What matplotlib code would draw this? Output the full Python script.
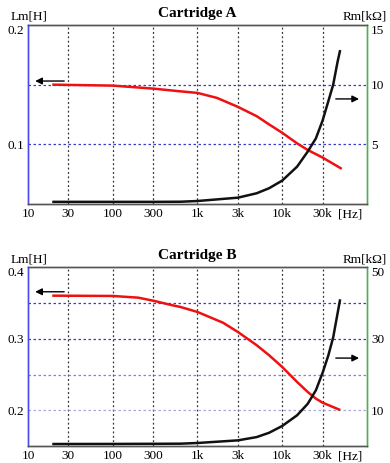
import matplotlib
matplotlib.use("Agg")
import matplotlib.pyplot as plt

# ---- data ----
freq_a = [20, 100, 300, 630, 1000, 1700, 3000, 5000, 7000, 10000, 15000, 20000, 30000, 49000]
lm_a = [0.150, 0.1492, 0.1467, 0.1444, 0.1431, 0.1389, 0.1314, 0.1236, 0.1167, 0.1097,
        0.1008, 0.0953, 0.0889, 0.0800]
freq_rm_a = [20, 100, 300, 630, 1000, 3000, 5000, 7000, 10000, 15000, 20000, 25000,
             30000, 35000, 40000, 45000, 48000]
rm_a = [0.18, 0.18, 0.18, 0.19, 0.25, 0.53, 0.9, 1.32, 1.96, 3.13, 4.39, 5.5, 7.0, 8.6,
        10.0, 11.9, 12.8]

freq_b = [20, 100, 200, 300, 500, 630, 1000, 2000, 3000, 5000, 7000, 10000, 15000, 20000,
          25000, 30000, 47000]
lm_b = [0.3603, 0.3599, 0.3575, 0.3533, 0.347, 0.3445, 0.3375, 0.3225, 0.3095, 0.291,
        0.277, 0.2606, 0.2396, 0.2256, 0.2163, 0.2106, 0.201]
freq_rm_b = [20, 100, 300, 630, 1000, 3000, 5000, 7000, 10000, 15000, 20000, 25000,
             30000, 35000, 40000, 48000]
rm_b = [0.56, 0.58, 0.62, 0.65, 0.84, 1.58, 2.5, 3.7, 5.6, 8.6, 11.8, 15.6, 20.5, 25.3,
        30.4, 40.7]

xticks = [10, 30, 100, 300, 1000, 3000, 10000, 30000]
xticklabels = ["10", "30", "100", "300", "1k", "3k", "10k", "30k"]

titles = ["Cartridge A", "Cartridge B"]
lm_ranges = [(0.05, 0.2), (0.15, 0.4)]
rm_ranges = [(0, 15), (0, 50)]
lm_ticks = [[0.2, 0.1], [0.4, 0.3, 0.2]]
lm_ticklabels = [["0.2", "0.1"], ["0.4", "0.3", "0.2"]]
rm_ticks = [[15, 10, 5], [50, 30, 10]]
rm_ticklabels = [["15", "10", "5"], ["50", "30", "10"]]
hgrid = [[(0.15, '#3a3acc'), (0.1, '#3a3acc')],
         [(0.35, '#3a3acc'), (0.3, '#3a3acc'), (0.25, '#8080dd'), (0.2, '#a8a8d8')]]
arrow_y = [(0.687, 0.587), (0.863, 0.492)]

serif = ['Liberation Serif', 'DejaVu Serif']

fig = plt.figure(figsize=(3.9, 4.63), dpi=100)
rects = [[0.0718, 0.5594, 0.869, 0.3866], [0.0718, 0.0367, 0.869, 0.386]]

lm_data = [(freq_a, lm_a), (freq_b, lm_b)]
rm_data = [(freq_rm_a, rm_a), (freq_rm_b, rm_b)]

for i in range(2):
    ax = fig.add_axes(rects[i])
    ax.set_xscale('log')
    ax.set_xlim(10, 100000)
    ax.set_ylim(*lm_ranges[i])
    for x in xticks[1:]:
        ax.axvline(x, color='#333333', ls=(0, (1.5, 2)), lw=0.9, zorder=1)
    for y, c in hgrid[i]:
        ax.axhline(y, color=c, ls=(0, (2, 2)), lw=0.9, zorder=1)
    ax.set_xticks(xticks)
    ax.set_xticklabels(xticklabels, fontfamily=serif, fontsize=9.5)
    ax.xaxis.set_minor_locator(matplotlib.ticker.NullLocator())
    ax.set_yticks(lm_ticks[i])
    ax.set_yticklabels(lm_ticklabels[i], fontfamily=serif, fontsize=9.5)
    ax.tick_params(length=0, pad=3)
    ax.get_yticklabels()[0].set_va('top')
    ax.plot(lm_data[i][0], lm_data[i][1], color='#ee1111', lw=1.8, zorder=3)

    ax2 = ax.twinx()
    ax2.set_ylim(*rm_ranges[i])
    ax2.set_yticks(rm_ticks[i])
    ax2.set_yticklabels(rm_ticklabels[i], fontfamily=serif, fontsize=9.5)
    ax2.tick_params(length=0, pad=3)
    ax2.get_yticklabels()[0].set_va('top')
    ax2.plot(rm_data[i][0], rm_data[i][1], color='#111111', lw=1.8, zorder=3)

    for a in (ax, ax2):
        a.spines['left'].set_color('#4a4aee')
        a.spines['right'].set_color('#55aa55')
        a.spines['top'].set_color('#555555')
        a.spines['bottom'].set_color('#555555')
        for s in a.spines.values():
            s.set_linewidth(1.0)

    ax.set_title(titles[i], fontfamily=serif, fontsize=11, fontweight='bold', pad=6)
    ax.text(-0.05, 1.012, "Lm[H]", transform=ax.transAxes, fontfamily=serif,
            fontsize=9.5, ha='left', va='bottom')
    ax.text(1.06, 1.012, "Rm[kΩ]", transform=ax.transAxes, fontfamily=serif,
            fontsize=9.5, ha='right', va='bottom')
    ax.text(0.915, -0.025, "[Hz]", transform=ax.transAxes, fontfamily=serif,
            fontsize=9.5, ha='left', va='top')

    ly, ry = arrow_y[i]
    ax.annotate("", xy=(0.013, ly), xytext=(0.115, ly), xycoords='axes fraction',
                arrowprops=dict(arrowstyle='-|>', color='black', lw=1.0, mutation_scale=10))
    ax.annotate("", xy=(0.985, ry), xytext=(0.9, ry), xycoords='axes fraction',
                arrowprops=dict(arrowstyle='-|>', color='black', lw=1.0, mutation_scale=10))

fig.savefig("out.png", dpi=100)
